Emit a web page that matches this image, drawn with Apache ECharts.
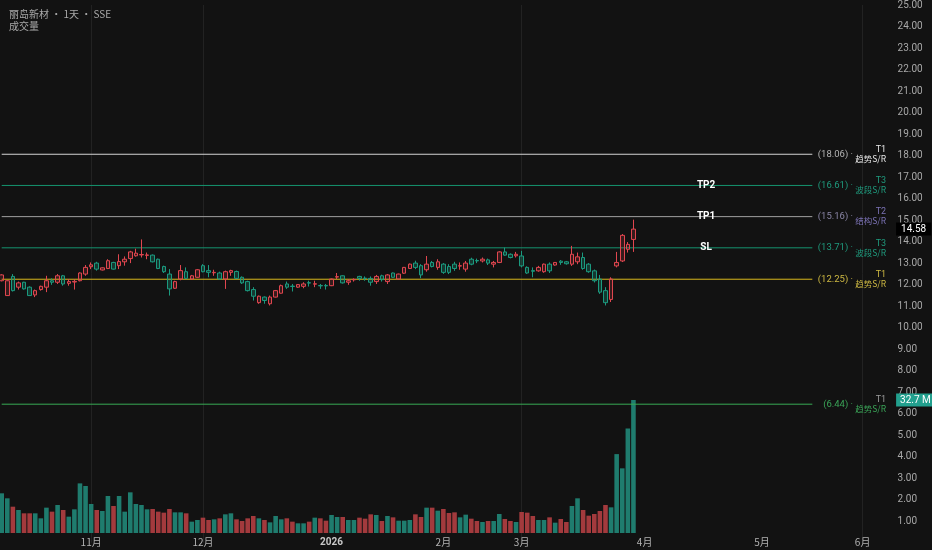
<!DOCTYPE html>
<html><head><meta charset="utf-8">
<script src="https://cdn.jsdelivr.net/npm/echarts@6/dist/echarts.min.js"></script>
<style>html,body{margin:0;padding:0;background:#121212;}#c{width:932px;height:550px;}</style>
</head><body><div id="c"></div>
<script>
// ---- data ----
const startDate = '2025-10-10';
const endDate = '2026-06-08';
const holidays = ['2026-01-01','2026-01-02','2026-02-16','2026-02-17','2026-02-18','2026-02-19','2026-02-20','2026-02-23','2026-04-06','2026-05-01','2026-05-04','2026-05-05'];
const gridMonths = ['2025-11', '2025-12', '2026-03', '2026-06'];

const opens = [12.18,11.49,12.38,11.88,12.11,11.88,11.52,11.77,11.88,12.18,12.11,12.41,12.06,12.12,12.18,12.49,12.83,13.00,12.68,12.75,
13.03,12.88,13.06,13.21,13.34,13.38,13.36,13.37,13.18,12.84,12.49,11.83,12.26,12.60,12.26,12.34,12.88,12.65,12.55,12.54,
12.26,12.57,12.61,12.34,12.14,11.77,11.16,11.42,11.11,11.42,11.60,12.03,11.93,11.88,11.92,12.09,12.02,11.96,11.96,11.95,
12.35,12.41,12.11,12.22,12.38,12.30,12.29,12.14,12.41,12.14,12.54,12.26,12.53,12.75,13.00,12.88,12.69,13.03,12.80,12.95,
12.84,12.95,12.86,12.72,13.18,13.12,13.10,13.15,12.95,13.03,13.52,13.41,13.34,13.33,12.80,12.65,12.64,12.60,12.95,12.91,
13.09,13.06,12.95,13.06,13.26,12.95,12.64,12.26,11.72,11.31,12.87,13.10,13.64,14.10];
const closes = [12.45,12.18,11.72,12.08,11.80,11.49,11.72,11.92,12.18,12.11,12.41,12.03,12.14,12.15,12.54,12.80,12.92,12.72,12.78,13.11,
12.72,13.07,13.18,13.52,13.46,13.40,13.38,13.06,12.75,12.60,11.80,12.14,12.65,12.29,12.41,12.69,12.60,12.57,12.57,12.26,
12.60,12.65,12.29,12.08,11.72,11.46,11.46,11.26,11.42,11.72,11.95,11.88,11.91,12.00,12.03,12.07,12.04,11.94,11.94,12.26,
12.37,12.08,12.18,12.24,12.29,12.28,12.11,12.38,12.23,12.45,12.34,12.49,12.80,12.95,12.80,12.45,12.95,12.84,13.06,12.57,
12.57,12.75,12.88,13.00,12.95,13.10,13.18,13.00,13.03,13.52,13.37,13.26,13.41,12.87,12.54,12.62,12.80,12.95,12.64,13.03,
13.03,12.97,13.41,13.29,12.75,12.60,12.18,11.65,11.16,12.26,13.03,14.29,13.87,14.58];
const lows = [12.15,11.47,11.68,11.77,11.77,11.47,11.42,11.72,11.65,11.99,12.03,11.95,11.95,11.77,12.15,12.41,12.72,12.65,12.66,12.72,
12.70,12.72,12.88,13.00,13.30,13.26,13.18,13.03,12.72,12.54,11.49,11.80,12.20,12.26,12.24,12.32,12.57,12.34,12.41,12.22,
11.80,12.41,12.26,12.03,11.68,11.26,11.11,11.11,11.03,11.40,11.58,11.80,11.68,11.85,11.83,11.91,11.88,11.80,11.77,11.93,
12.26,12.05,11.99,12.14,12.18,12.18,11.95,12.03,12.14,12.03,12.32,12.24,12.50,12.73,12.72,12.30,12.60,12.80,12.69,12.50,
12.49,12.64,12.69,12.60,12.90,13.00,13.03,12.91,12.80,13.00,13.34,13.22,13.26,12.80,12.50,12.34,12.60,12.55,12.54,12.88,
12.92,12.93,12.87,12.95,12.69,12.55,12.10,11.57,11.03,11.19,12.80,13.05,13.49,13.52];
const highs = [12.48,12.20,12.49,12.14,12.13,11.92,11.77,11.95,12.41,12.29,12.49,12.45,12.26,12.26,12.57,12.91,13.03,13.06,12.80,13.18,
13.06,13.41,13.31,13.57,13.67,14.10,13.49,13.40,13.21,12.88,12.72,12.18,12.91,12.80,12.45,12.72,12.95,12.91,12.69,12.60,
12.65,12.69,12.65,12.38,12.18,11.88,11.49,11.45,11.49,11.75,12.00,12.14,12.03,12.02,12.11,12.18,12.18,12.03,12.03,12.28,
12.54,12.43,12.26,12.29,12.41,12.38,12.38,12.45,12.46,12.49,12.56,12.51,12.82,12.98,13.11,12.95,13.33,13.10,13.18,13.00,
12.95,13.06,13.03,13.10,13.25,13.21,13.26,13.21,13.10,13.55,13.72,13.45,13.52,13.57,12.85,12.80,12.87,12.98,13.03,13.05,
13.14,13.10,13.80,13.49,13.49,13.00,12.70,12.45,11.88,12.34,13.52,14.35,13.98,15.02];
// volume in millions
const volumes = [9.76,8.53,6.47,5.66,4.84,4.84,4.84,3.61,6.23,5.25,6.88,5.66,4.02,5.82,12.2,11.56,7.13,5.66,5.41,9.10,
6.64,9.10,5.25,10.0,7.13,6.88,5.82,5.90,5.25,5.00,5.90,5.08,5.08,4.84,2.79,3.20,3.77,3.20,3.36,3.61,
4.59,4.84,3.36,2.95,3.61,4.18,3.61,3.20,2.62,4.18,3.36,3.61,2.79,2.38,2.38,2.79,3.77,3.61,3.03,4.43,
3.93,3.93,3.20,3.20,3.77,3.52,4.59,4.43,2.95,4.18,3.85,3.03,3.03,3.20,4.59,3.93,6.23,6.23,5.49,5.90,
4.92,5.08,3.85,4.51,3.52,2.95,2.70,2.95,2.95,4.67,3.44,2.95,2.70,5.16,5.00,4.18,3.20,3.20,3.85,2.54,
3.44,2.70,6.64,8.53,5.66,4.26,4.67,5.41,6.88,6.31,19.4,15.9,25.7,32.7];

const levelValues = [18.06, 16.61, 15.16, 13.71, 12.25, 6.44];
const levelTiers  = ['T1', 'T3', 'T2', 'T3', 'T1', 'T1'];
const levelKinds  = ['趋势S/R', '波段S/R', '结构S/R', '波段S/R', '趋势S/R', '趋势S/R'];
const targetNames  = ['TP2', 'TP1', 'SL'];
const targetValues = [16.61, 15.16, 13.71];
const titleText = '丽岛新材 • 1天 • SSE';
const subTitleText = '成交量';

// ---- styles ----
const levelLineColors  = ['#d4d4d4', '#15946f', '#a0a0a0', '#15946f', '#d8b81c', '#38aa55'];
const levelValueColors = ['#b4b4b4', '#1f9a7d', '#8a86a6', '#1f9a7d', '#cdb842', '#3aa357'];
const levelTierColors  = ['#e6e6e6', '#1f9a7d', '#7b72b4', '#1f9a7d', '#cdb842', '#9a9a9a'];
const levelKindColors  = ['#e6e6e6', '#1f9a7d', '#7b72b4', '#1f9a7d', '#cdb842', '#3aa357'];
const UP = '#e0464f', DOWN = '#1b9a7f';
const VOL_UP = '#1f7c6e', VOL_DOWN = '#a33a3d';
const FONT = 'Noto Sans CJK SC, Noto Sans, sans-serif';

// ---- build ----
const categories = [];
for (let d = new Date(startDate + 'T00:00:00Z'); d <= new Date(endDate + 'T00:00:00Z'); d.setUTCDate(d.getUTCDate() + 1)) {
  const wd = d.getUTCDay();
  if (wd === 0 || wd === 6) continue;
  const s = d.toISOString().slice(0, 10);
  if (holidays.includes(s)) continue;
  categories.push(s);
}
const monthStart = new Set();
categories.forEach((c, i) => { if (i > 0 && c.slice(0, 7) !== categories[i - 1].slice(0, 7)) monthStart.add(i); });
const gridLineIdx = new Set([...monthStart].filter((i) => gridMonths.includes(categories[i].slice(0, 7))));
const lastCat = categories[categories.length - 1];
const lineEndCat = categories[145];
const targetCat = categories[126];

const candleData = opens.map((o, i) => [o, closes[i], lows[i], highs[i]]);
const volData = volumes.map((v, i) => ({ value: v, itemStyle: { color: closes[i] >= opens[i] ? VOL_UP : VOL_DOWN } }));
const lastPrice = closes[closes.length - 1];
const lastVol = volumes[volumes.length - 1];

// each level drawn as its own two-point line series
const levelSeries = levelValues.map((v, i) => ({
  name: 'level' + i, type: 'line', xAxisIndex: 0, yAxisIndex: 0, silent: true, z: 2,
  showSymbol: false, symbol: 'none', clip: false,
  color: levelLineColors[i],
  lineStyle: { color: levelLineColors[i], width: 1, type: 'solid', opacity: 1 },
  emphasis: { disabled: true },
  data: [[categories[0], v], [lineEndCat, v]]
}));

const levelPoints = [];
levelValues.forEach((v, i) => {
  levelPoints.push({
    coord: [lastCat, v],
    label: { show: true, position: 'left', distance: 37, formatter: '(' + v.toFixed(2) + ') ·', color: levelValueColors[i], fontSize: 9.5, fontFamily: 'Roboto, sans-serif' }
  });
  levelPoints.push({
    coord: [lastCat, v],
    label: {
      show: true, position: 'left', distance: 4, fontFamily: FONT,
      formatter: '{a|' + levelTiers[i] + '}\n{b|' + levelKinds[i] + '}',
      rich: {
        a: { color: levelTierColors[i], fontSize: 9, lineHeight: 9, align: 'right', fontFamily: 'Roboto, sans-serif' },
        b: { color: levelKindColors[i], fontSize: 8.5, lineHeight: 9, align: 'right', fontFamily: FONT }
      }
    }
  });
});
targetNames.forEach((n, i) => {
  levelPoints.push({
    coord: [targetCat, targetValues[i]],
    label: { show: true, position: 'inside', formatter: n, color: '#ffffff', fontSize: 10, fontWeight: 'bold', fontFamily: 'Roboto, sans-serif' }
  });
});
levelPoints.push({
  coord: [lastCat, lastPrice],
  label: { show: true, position: 'right', distance: 5, formatter: lastPrice.toFixed(2), color: '#ffffff', fontSize: 10,
    backgroundColor: '#000000', padding: [2, 5, 1, 5], fontFamily: 'Roboto, sans-serif' }
});

const chart = echarts.init(document.getElementById('c'), null, { renderer: 'canvas' });
chart.setOption({
  backgroundColor: '#121212',
  animation: false,
  title: {
    text: titleText, subtext: subTitleText, left: 4, top: 4, itemGap: 1,
    textStyle: { fontSize: 10, fontWeight: 'normal', color: '#a9a9a9', fontFamily: FONT, lineHeight: 11 },
    subtextStyle: { fontSize: 10, color: '#a9a9a9', fontFamily: FONT, lineHeight: 11 }
  },
  grid: [
    { left: 1.7, right: 41.4, top: 1, bottom: 7.3 },
    { left: 1.7, right: 41.4, top: 289, bottom: 17 }
  ],
  xAxis: [
    { type: 'category', data: categories, gridIndex: 0, boundaryGap: false,
      axisLine: { show: false }, axisTick: { show: false }, axisLabel: { show: false },
      splitLine: { show: true, interval: (i) => gridLineIdx.has(i), lineStyle: { color: '#222222', width: 1 } } },
    { type: 'category', data: categories, gridIndex: 1, boundaryGap: false,
      axisLine: { show: false }, axisTick: { show: false }, splitLine: { show: false },
      axisLabel: {
        show: true, interval: (i) => monthStart.has(i), margin: 4, color: '#b2b2b2', fontSize: 10, fontFamily: FONT,
        formatter: (val) => {
          const m = parseInt(val.slice(5, 7), 10);
          return m === 1 ? '{y|' + val.slice(0, 4) + '}' : m + '月';
        },
        rich: { y: { fontWeight: 'bold', color: '#c8c8c8', fontSize: 10, fontFamily: 'Roboto, sans-serif' } }
      } }
  ],
  yAxis: [
    { type: 'value', gridIndex: 0, position: 'right', min: 0, max: 25, interval: 1,
      axisLine: { show: false }, axisTick: { show: false }, splitLine: { show: false },
      axisLabel: { margin: 7, color: '#a8a8a8', fontSize: 10, fontFamily: 'Roboto, sans-serif',
        formatter: (v) => v === 0 ? '' : v.toFixed(2) } },
    { type: 'value', gridIndex: 1, min: 0, max: 60, show: false }
  ],
  series: [
    { type: 'bar', xAxisIndex: 1, yAxisIndex: 1, data: volData, barWidth: '82%', clip: false, z: 1,
      markPoint: { symbol: 'circle', symbolSize: 1, itemStyle: { color: 'transparent' }, silent: true, animation: false,
        data: [{ coord: [lastCat, lastVol],
          label: { show: true, position: 'right', distance: 5, formatter: lastVol.toFixed(1) + ' M', color: '#ffffff', fontSize: 10,
            backgroundColor: '#22a08e', padding: [2, 4, 1, 4], fontFamily: 'Roboto, sans-serif' } }] } },
    ...levelSeries,
    { type: 'candlestick', xAxisIndex: 0, yAxisIndex: 0, data: candleData, barWidth: 4, clip: false, z: 3,
      itemStyle: { color: 'rgba(224,70,79,0.18)', color0: 'rgba(27,154,127,0.28)', borderColor: UP, borderColor0: DOWN, borderWidth: 1 },
      markPoint: { symbol: 'circle', symbolSize: 1, itemStyle: { color: 'transparent' }, silent: true, animation: false, data: levelPoints } }
  ]
});
</script></body></html>
